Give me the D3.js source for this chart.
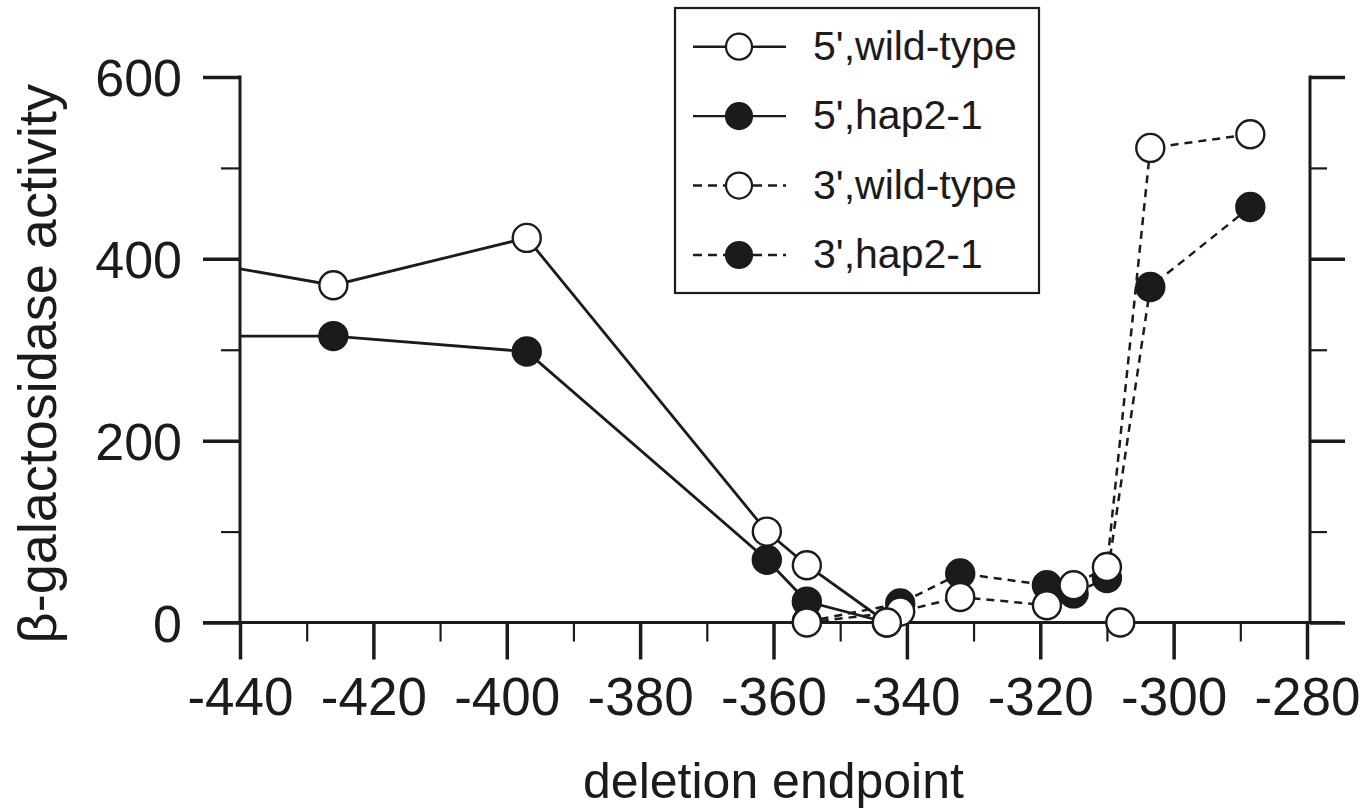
<!DOCTYPE html>
<html>
<head>
<meta charset="utf-8">
<script src="https://cdn.jsdelivr.net/npm/d3@7"></script>
<style>
  html, body { margin: 0; padding: 0; background: #fff; }
  svg { display: block; font-family: "Liberation Sans", Arial, Helvetica, sans-serif; }
</style>
</head>
<body>
<div id="viz"></div>
<script>
// deletion endpoint (x) and beta-galactosidase activity (y) per series
// 5' series run off the left edge, the first point has no marker
let fiveWtX = [-440, -426, -397, -361, -355, -343, -308];
let fiveWtY = [389, 371, 423, 100, 63, 0, 0];
let fiveHapX = [-440, -426, -397, -361, -355, -343];
let fiveHapY = [315, 315, 298, 69, 23, 0];
let threeX = [-355, -341, -332, -319, -315, -310, -303.5, -288.5];
let threeWtY = [0, 12, 28, 19, 41, 61, 522, 537];
let threeHapY = [1, 21, 54, 41, 32, 49, 369, 457];

let seriesNames = ["5',wild-type", "5',hap2-1", "3',wild-type", "3',hap2-1"];

// ticks
let xMajor = d3.range(-440, -279, 20);
let xMinor = d3.range(-430, -280, 20);
let yMajor = [0, 200, 400, 600];
let yMinor = [100, 300, 500];

const width = 1369, height = 812;
const ink = "#1b1b1b";

const svg = d3.select("#viz").append("svg")
    .attr("width", width)
    .attr("height", height);

// scales
const x = d3.scaleLinear().domain([-440, -280]).range([240, 1307]);
const y = d3.scaleLinear().domain([0, 600]).range([622.5, 77]);

// series table built from the arrays above
const series = [
    { name: seriesNames[0], xs: fiveWtX, ys: fiveWtY, filled: false, dashed: false },
    { name: seriesNames[1], xs: fiveHapX, ys: fiveHapY, filled: true, dashed: false },
    { name: seriesNames[2], xs: threeX, ys: threeWtY, filled: false, dashed: true },
    { name: seriesNames[3], xs: threeX, ys: threeHapY, filled: true, dashed: true }
];
series.forEach(s => { s.pts = s.xs.map((v, i) => [v, s.ys[i]]); });

const majorLen = 37, minorLen = 19;

// ---- axes ----
const axes = svg.append("g").attr("class", "axes");

// bottom axis ticks with d3.axisBottom, domain line drawn by hand so it can run past the right axis
axes.append("g")
    .attr("transform", `translate(0,${y(0)})`)
    .call(d3.axisBottom(x).tickValues(xMajor).tickSize(majorLen).tickFormat(d => String(d)))
    .call(g => g.select(".domain").remove())
    .call(g => g.selectAll(".tick line").attr("stroke", ink).attr("stroke-width", 3.5))
    .call(g => g.selectAll(".tick text")
        .attr("fill", ink)
        .attr("font-size", 53)
        .attr("dy", null)
        .attr("y", 92));

axes.append("g")
    .attr("transform", `translate(0,${y(0)})`)
    .call(d3.axisBottom(x).tickValues(xMinor).tickSize(minorLen).tickFormat(""))
    .call(g => g.select(".domain").remove())
    .call(g => g.selectAll(".tick line").attr("stroke", ink).attr("stroke-width", 2.2));

// left axis
axes.append("g")
    .attr("transform", `translate(${x(-440)},0)`)
    .call(d3.axisLeft(y).tickValues(yMajor).tickSize(majorLen).tickPadding(21).tickFormat(d => String(d)))
    .call(g => g.select(".domain").remove())
    .call(g => g.selectAll(".tick line").attr("stroke", ink).attr("stroke-width", 3.5))
    .call(g => g.selectAll(".tick text")
        .attr("fill", ink)
        .attr("font-size", 52)
        .attr("dy", "0.36em"));

axes.append("g")
    .attr("transform", `translate(${x(-440)},0)`)
    .call(d3.axisLeft(y).tickValues(yMinor).tickSize(minorLen).tickFormat(""))
    .call(g => g.select(".domain").remove())
    .call(g => g.selectAll(".tick line").attr("stroke", ink).attr("stroke-width", 2.2));

// right axis, ticks pointing outward, no labels
axes.append("g")
    .attr("transform", `translate(${x(-280) + 3},0)`)
    .call(d3.axisRight(y).tickValues(yMajor).tickSize(majorLen - 2).tickFormat(""))
    .call(g => g.select(".domain").remove())
    .call(g => g.selectAll(".tick line").attr("stroke", ink).attr("stroke-width", 3.5));

axes.append("g")
    .attr("transform", `translate(${x(-280) + 3},0)`)
    .call(d3.axisRight(y).tickValues(yMinor).tickSize(minorLen - 2).tickFormat(""))
    .call(g => g.select(".domain").remove())
    .call(g => g.selectAll(".tick line").attr("stroke", ink).attr("stroke-width", 2.2));

// axis lines
axes.append("line")
    .attr("x1", x(-440) - majorLen).attr("x2", x(-275))
    .attr("y1", y(0)).attr("y2", y(0))
    .attr("stroke", ink).attr("stroke-width", 3);
axes.append("line")
    .attr("x1", x(-440)).attr("x2", x(-440))
    .attr("y1", y(600) - 1.5).attr("y2", y(0))
    .attr("stroke", ink).attr("stroke-width", 3);
axes.append("line")
    .attr("x1", x(-280) + 3).attr("x2", x(-280) + 3)
    .attr("y1", y(600) - 1.5).attr("y2", y(0) + 1)
    .attr("stroke", ink).attr("stroke-width", 3);

// axis titles
svg.append("text")
    .attr("transform", `translate(56,${(y(0) + y(600)) / 2 + 14}) rotate(-90)`)
    .attr("text-anchor", "middle")
    .attr("font-size", 54)
    .attr("fill", ink)
    .text("β-galactosidase activity");

svg.append("text")
    .attr("x", (x(-440) + x(-280)) / 2)
    .attr("y", 798)
    .attr("text-anchor", "middle")
    .attr("font-size", 50)
    .attr("fill", ink)
    .text("deletion endpoint");

// ---- data ----
const line = d3.line().x(d => x(d[0])).y(d => y(d[1]));

const plot = svg.append("g").attr("class", "plot");

plot.selectAll("path.series")
    .data(series)
    .join("path")
    .attr("class", "series")
    .attr("d", d => line(d.pts))
    .attr("fill", "none")
    .attr("stroke", ink)
    .attr("stroke-width", d => d.dashed ? 2.5 : 2.8)
    .attr("stroke-dasharray", d => d.dashed ? "8,6" : null);

// marker drawing order: filled below open, 5' wild-type last
const markerOrder = [series[1], series[3], series[2], series[0]];
markerOrder.forEach(s => {
    plot.append("g")
        .selectAll("circle")
        .data(s.pts.filter(p => p[0] > x.domain()[0]))
        .join("circle")
        .attr("cx", d => x(d[0]))
        .attr("cy", d => y(d[1]))
        .attr("r", 14)
        .attr("fill", s.filled ? ink : "#fff")
        .attr("stroke", ink)
        .attr("stroke-width", 2.4);
});

// ---- legend ----
const legend = svg.append("g").attr("class", "legend");
legend.append("rect")
    .attr("x", 675).attr("y", 8)
    .attr("width", 364).attr("height", 285)
    .attr("fill", "#fff")
    .attr("stroke", ink)
    .attr("stroke-width", 2.2);

const rowY = d3.scaleLinear().domain([0, 3]).range([46.7, 255]);

const rows = legend.selectAll("g.row")
    .data(series)
    .join("g")
    .attr("class", "row")
    .attr("transform", (d, i) => `translate(0,${rowY(i)})`);

rows.append("line")
    .attr("x1", 693).attr("x2", 786)
    .attr("stroke", ink)
    .attr("stroke-width", 2.4)
    .attr("stroke-dasharray", d => d.dashed ? "9,6" : null);

rows.append("circle")
    .attr("cx", 739)
    .attr("r", 13)
    .attr("fill", d => d.filled ? ink : "#fff")
    .attr("stroke", ink)
    .attr("stroke-width", 2.2);

rows.append("text")
    .attr("x", 813)
    .attr("y", 13)
    .attr("font-size", 41)
    .attr("fill", ink)
    .text(d => d.name);
</script>
</body>
</html>
